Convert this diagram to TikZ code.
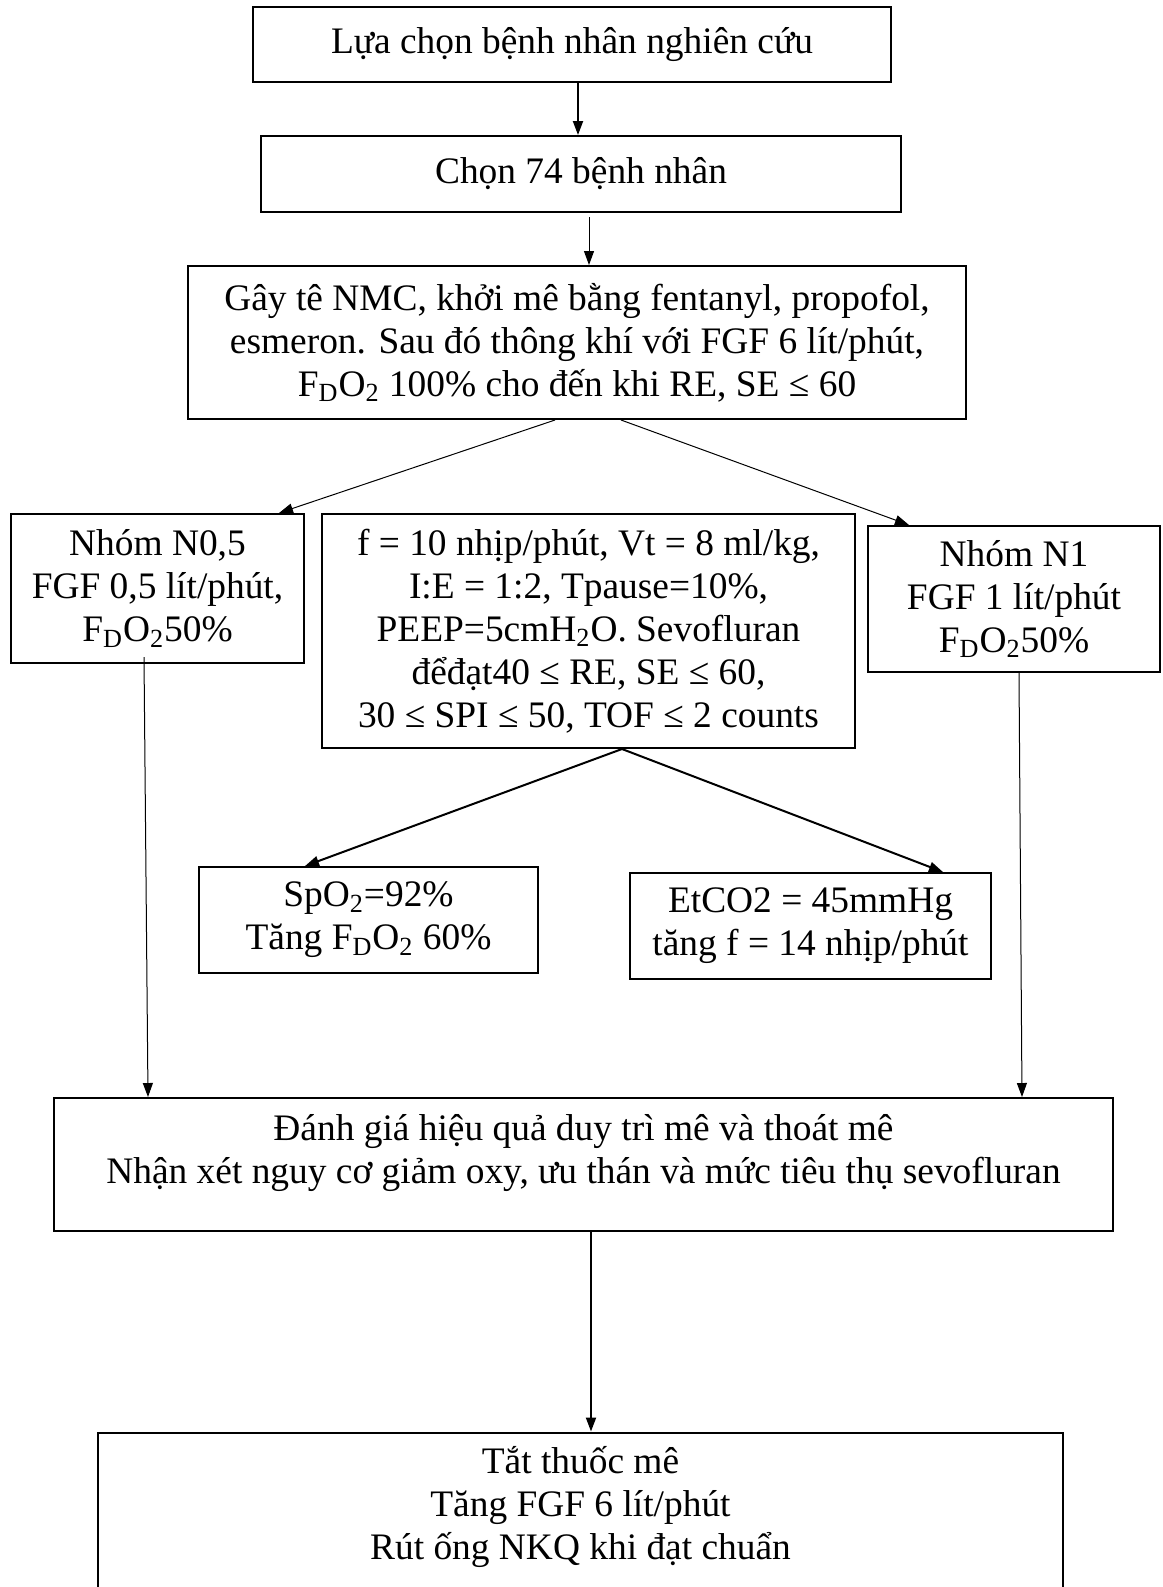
\documentclass[tikz,border=0pt]{standalone}
\usepackage{fontspec}
\setmainfont{Liberation Serif}
\usetikzlibrary{arrows.meta}

\tikzset{
  box/.style={draw, line width=1pt, align=center, inner sep=0pt,
    font=\fontsize{18.7}{21.5}\selectfont},
  thinarrow/.style={-{Triangle[length=7pt,width=5pt]}, line width=0.5pt},
  thickarrow/.style={-{Triangle[length=7pt,width=5pt]}, line width=1pt},
}

\begin{document}
\begin{tikzpicture}[x=0.5pt,y=0.5pt,yscale=-1,xscale=1]
    \useasboundingbox (0,0) rectangle (1163,1587);

    % Text Node
    \node[box, minimum width=319pt, minimum height=37.5pt] (chon) at (572,44.5) {Lựa chọn bệnh nhân nghiên cứu};
    % Text Node
    \node[box, minimum width=320pt, minimum height=38pt] (bn74) at (581,174) {Chọn 74 bệnh nhân};
    % Text Node
    \node[box, minimum width=389pt, minimum height=76.5pt] (gayte) at (577,342.5) {Gây tê NMC, khởi mê bằng fentanyl, propofol,\\
    esmeron. Sau đó thông khí với FGF 6 lít/phút,\\
    F\textsubscript{D}O\textsubscript{2} 100\% cho đến khi RE, SE ≤ 60};
    % Text Node
    \node[box, minimum width=146.5pt, minimum height=74.5pt] (nhom05) at (157.5,588.5) {Nhóm N0,5\\
    FGF 0,5 lít/phút,\\
    F\textsubscript{D}O\textsubscript{2}50\%};
    % Text Node
    \node[box, minimum width=266.5pt, minimum height=117pt] (thongso) at (588.5,631) {f = 10 nhịp/phút, Vt = 8 ml/kg,\\
    I:E = 1:2, Tpause=10\%,\\
    PEEP=5cmH\textsubscript{2}O. Sevofluran\\
    đểđạt40 ≤ RE, SE ≤ 60,\\
    30 ≤ SPI ≤ 50, TOF ≤ 2 counts};
    % Text Node
    \node[box, minimum width=146pt, minimum height=73pt] (nhom1) at (1014,599) {Nhóm N1\\
    FGF 1 lít/phút\\
    F\textsubscript{D}O\textsubscript{2}50\%};
    % Text Node
    \node[box, minimum width=169.5pt, minimum height=53pt] (spo) at (368.5,920) {SpO\textsubscript{2}=92\%\\
    Tăng F\textsubscript{D}O\textsubscript{2} 60\%};
    % Text Node
    \node[box, minimum width=180.5pt, minimum height=53pt] (etco) at (810.5,926) {EtCO2 = 45mmHg\\
    tăng f = 14 nhịp/phút};
    % Text Node
    \node[box, minimum width=529.5pt, minimum height=66.5pt] (danhgia) at (583.5,1164.5) {Đánh giá hiệu quả duy trì mê và thoát mê\\
    Nhận xét nguy cơ giảm oxy, ưu thán và mức tiêu thụ sevofluran\\[-6pt]
    \mbox{}};
    % Text Node
    \node[box, minimum width=482.5pt, minimum height=98.5pt] (tat) at (580.5,1531) {Tắt thuốc mê\\
    Tăng FGF 6 lít/phút\\
    Rút ống NKQ khi đạt chuẩn\\
    \strut};

    % Arrows
    \draw[thickarrow] ([xshift=3pt]chon.south) -- ([xshift=-1.5pt]bn74.north);
    \draw[thinarrow] ([xshift=4pt,yshift=2pt]bn74.south) -- ([xshift=6pt]gayte.north);
    \draw[thinarrow] ([xshift=-11pt]gayte.south) -- ([xshift=60.75pt]nhom05.north);
    \draw[thinarrow] ([xshift=22pt]gayte.south) -- ([xshift=-52.5pt]nhom1.north);
    \draw[thickarrow] ([xshift=16.75pt]thongso.south) -- ([xshift=-31.75pt]spo.north);
    \draw[thickarrow] ([xshift=16.75pt]thongso.south) -- ([xshift=66.25pt]etco.north);
    \draw[thinarrow] ([xshift=-6.75pt,yshift=-3.5pt]nhom05.south) -- ([xshift=-217.75pt]danhgia.north);
    \draw[thinarrow] ([xshift=2.5pt]nhom1.south) -- ([xshift=219.25pt]danhgia.north);
    \draw[thickarrow] ([xshift=3.75pt]danhgia.south) -- ([xshift=5.25pt]tat.north);
\end{tikzpicture}
\end{document}
